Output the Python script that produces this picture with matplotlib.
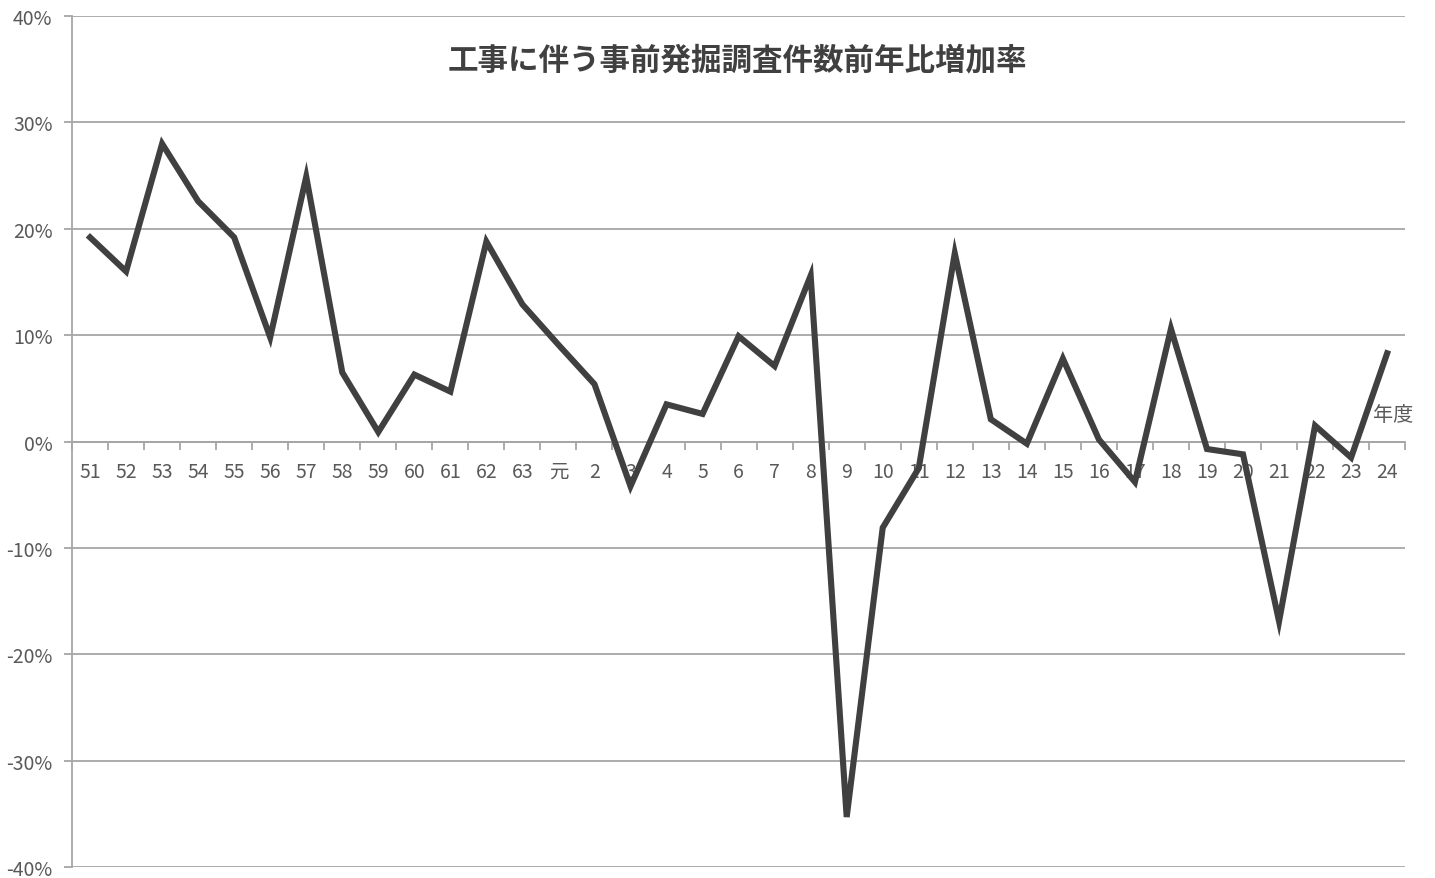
import matplotlib

matplotlib.use('Agg')
import matplotlib.pyplot as plt
from matplotlib.ticker import FixedLocator, FuncFormatter

plt.rcParams['font.family'] = ['Noto Sans CJK JP', 'DejaVu Sans']

title = '工事に伴う事前発掘調査件数前年比増加率'

# 年度 (昭和51 .. 昭和63, 平成元 .. 平成24)
years = ['51', '52', '53', '54', '55', '56', '57', '58', '59', '60', '61',
         '62', '63', '元', '2', '3', '4', '5', '6', '7', '8', '9', '10',
         '11', '12', '13', '14', '15', '16', '17', '18', '19', '20', '21',
         '22', '23', '24']

# 前年比増加率 (%)
rates = [19.2, 16.0, 28.0, 22.6, 19.2, 9.8, 24.9, 6.5, 0.9, 6.3, 4.7,
         18.8, 12.9, 9.1, 5.4, -4.2, 3.5, 2.6, 9.9, 7.1, 15.6, -35.3, -8.1,
         -2.5, 17.7, 2.1, -0.2, 7.8, 0.2, -3.8, 10.6, -0.7, -1.2, -16.9,
         1.5, -1.5, 8.3]

grid_c = '#a6a6a6'
text_c = '#595959'

fig = plt.figure(figsize=(14.35, 8.79), dpi=100)
ax = fig.add_axes([0.0502, 0.0125, 0.929, 0.968])

x = list(range(len(years)))
ax.plot(x, rates, color='#404040', linewidth=4.4, solid_joinstyle='miter',
        zorder=3, clip_on=False)

ax.set_xlim(-0.5, len(years) - 0.5)
ax.set_ylim(-40, 40)
ax.set_yticks(range(-40, 41, 10))
ax.yaxis.set_major_formatter(FuncFormatter(lambda v, p: '%d%%' % v))
ax.grid(axis='y', color=grid_c, linewidth=1.3, zorder=1)

# category axis at 0%
ax.spines['bottom'].set_position(('data', 0))
ax.spines['bottom'].set_color(grid_c)
ax.spines['bottom'].set_linewidth(1.3)
ax.spines['left'].set_color(grid_c)
ax.spines['left'].set_linewidth(1.3)
ax.spines['top'].set_visible(False)
ax.spines['right'].set_visible(False)

ax.xaxis.set_major_locator(FixedLocator([i - 0.5 for i in range(len(years) + 1)]))
ax.xaxis.set_major_formatter(FuncFormatter(lambda v, p: ''))
ax.xaxis.set_minor_locator(FixedLocator(x))
ax.set_xticklabels(years, minor=True)
ax.tick_params(axis='x', which='major', direction='out', length=6,
               width=1.3, color=grid_c)
ax.tick_params(axis='x', which='minor', length=0, pad=14,
               labelsize=14, labelcolor=text_c)
ax.tick_params(axis='y', direction='out', length=6, width=1.3,
               color=grid_c, labelsize=14, labelcolor=text_c, pad=8)

ax.text(35.62, 2.5, '年度', fontsize=14.5, color=text_c, ha='left', va='center')

fig.text(0.514, 0.931, title, fontsize=22, fontweight='bold',
         color='#404040', ha='center', va='center')

fig.savefig('out.png', dpi=100)
